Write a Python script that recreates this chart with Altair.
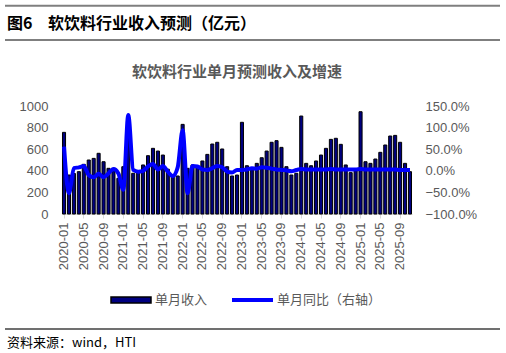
import altair as alt
import pandas as pd

months = [f"{y}-{m:02d}" for y in range(2020, 2026) for m in range(1, 13)][:71]

revenue = [756, 361, 375, 392, 460, 500, 515, 562, 484, 423, 423, 330,
           438, 830, 377, 392, 454, 540, 608, 583, 546, 415, 352, 352,
           830, 423, 454, 438, 491, 552, 648, 664, 602, 438, 352, 361,
           849, 447, 428, 469, 521, 583, 664, 679, 617, 438, 361, 377,
           907, 469, 447, 491, 546, 608, 691, 701, 645, 454, 383, 398,
           947, 484, 469, 509, 571, 639, 722, 728, 664, 469, 392]

yoy_pct = [56, -52, 6, 8, 11, -10, -15, -7, -15, -6, 4, -6,
           -44, 129, 2, -2, 0, 10, 16, 3, 11, -2, -12, 8,
           94, -52, 11, 10, 3, 2, 6, 11, 8, -2, -4, 2,
           2, 3, 6, 5, 8, 7, 5, 3, 2, 1, -1, 2,
           4, 3, 3, 3, 3, 3, 4, 3, 3, 3, 3, 3,
           4, 3, 3, 3, 3, 3, 3, 3, 2, 2, 2]

tick_labels = months[::4]

df = pd.DataFrame({"month": months, "revenue": revenue,
                   "yoy": [v / 100 for v in yoy_pct]})

AX_FONT = "Liberation Sans"
CJK = "Noto Sans CJK SC"
GRAY = "#595959"

xenc = alt.X("month:O", sort=months, title=None,
             scale=alt.Scale(paddingInner=0.38, paddingOuter=0.1),
             axis=alt.Axis(values=tick_labels, labelAngle=-90, labelFont=AX_FONT,
                           labelFontSize=13, labelColor=GRAY, tickColor="#d9d9d9",
                           tickSize=4, labelPadding=4, domainColor="#d9d9d9"))

base = alt.Chart(df)

bars = base.mark_bar(fill="#000080", stroke="#000000", strokeWidth=1).encode(
    x=xenc,
    y=alt.Y("revenue:Q", title=None,
            scale=alt.Scale(domain=[0, 1000]),
            axis=alt.Axis(values=[0, 200, 400, 600, 800, 1000], format="d", grid=False,
                          domain=False, ticks=False, labelFont=AX_FONT, labelFontSize=13,
                          labelColor=GRAY, labelPadding=14)),
)

line = base.mark_line(color="#0000ff", strokeWidth=4, interpolate="monotone").encode(
    x=alt.X("month:O", sort=months),
    y=alt.Y("yoy:Q", title=None,
            scale=alt.Scale(domain=[-1, 1.5]),
            axis=alt.Axis(orient="right", values=[-1, -0.5, 0, 0.5, 1, 1.5], format=".1%",
                          grid=False, domain=False, ticks=False, labelFont=AX_FONT,
                          labelFontSize=13, labelColor=GRAY, labelPadding=13)),
)

one = pd.DataFrame({"k": [0]})


def txt(text, x, y, size, color, weight="normal", font=CJK, align="left"):
    return alt.Chart(one).mark_text(text=text, align=align, baseline="middle",
                                    fontSize=size, color=color, fontWeight=weight,
                                    font=font).encode(x=alt.value(x), y=alt.value(y))


def hrule(y, x1, x2, color, w):
    return alt.Chart(one).mark_rule(color=color, strokeWidth=w).encode(
        x=alt.value(x1), x2=alt.value(x2), y=alt.value(y))


header1 = txt("图6", -55, -82, 16, "#000000", weight="bold")
header2 = txt("软饮料行业收入预测（亿元）", -14, -82, 16, "#000000", weight="bold")
r1 = hrule(-100.3, -57, 438, "#7f7f7f", 2)
r2 = hrule(-66, -57, 438, "#7f7f7f", 2)
ctitle = txt("软饮料行业单月预测收入及增速", 175, -34, 15, GRAY, weight="bold", align="center")

leg_rect = alt.Chart(one).mark_rect(fill="#000080", stroke="#000000", strokeWidth=1.5).encode(
    x=alt.value(49), x2=alt.value(89), y=alt.value(191), y2=alt.value(197))
leg_t1 = txt("单月收入", 93, 194, 13, GRAY)
leg_line = alt.Chart(one).mark_rule(color="#0000ff", strokeWidth=4).encode(
    x=alt.value(170), x2=alt.value(211), y=alt.value(194))
leg_t2 = txt("单月同比（右轴）", 215, 194, 13, GRAY)

r3 = hrule(223, -57, 438, "#404040", 1.5)
source = txt("资料来源：wind，HTI", -55, 237, 13, "#000000")

chart = alt.layer(bars, line, header1, header2, r1, r2, ctitle, leg_rect, leg_t1, leg_line,
                  leg_t2, r3, source).resolve_scale(y="independent").properties(
    width=350, height=108,
    autosize=alt.AutoSizeParams(type="none"),
    padding={"left": 62, "top": 106, "right": 94, "bottom": 139},
    background="#ffffff",
).configure_view(stroke=None)

chart.save("out.html", embed_options={"renderer": "svg", "actions": False})
